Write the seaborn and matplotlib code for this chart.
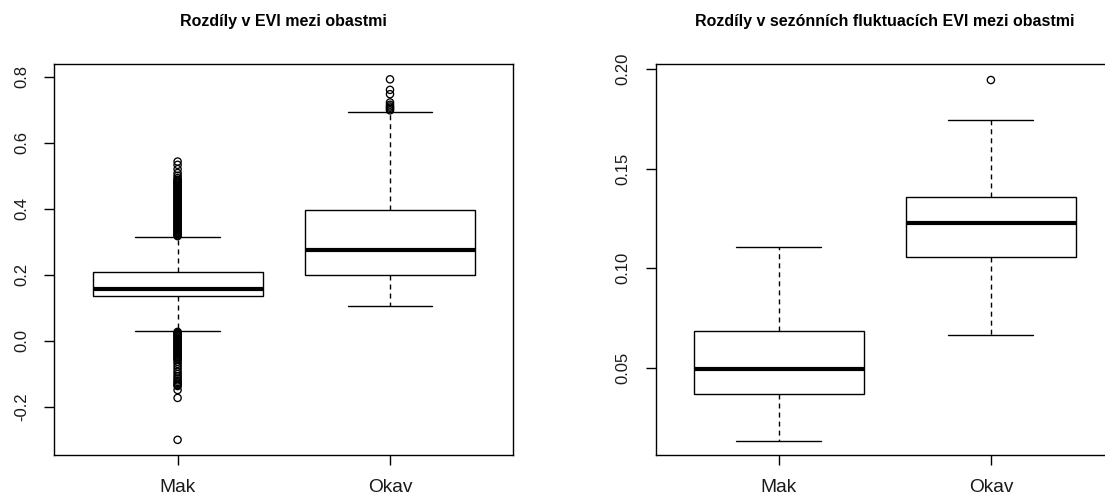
import numpy as np
import pandas as pd
import matplotlib
matplotlib.use("Agg")
import matplotlib.pyplot as plt
import seaborn as sns

# ---------------- data ----------------
groups = ["Mak", "Okav"]

# five-number summaries: lower whisker, Q1, median, Q3, upper whisker
evi_mak_box = [0.030, 0.135, 0.158, 0.208, 0.314]
evi_okav_box = [0.104, 0.198, 0.274, 0.397, 0.693]

# outliers (EVI) - the Mak outliers form a dense column in the reference
evi_mak_out = [0.543, 0.533, 0.520, 0.508, 0.500, 0.493,
               0.488, 0.485, 0.482, 0.479, 0.476, 0.473, 0.470, 0.467,
               0.464, 0.461, 0.458, 0.455, 0.452, 0.449, 0.446, 0.443,
               0.440, 0.437, 0.434, 0.431, 0.428, 0.425, 0.422, 0.419,
               0.416, 0.413, 0.410, 0.407, 0.404, 0.401, 0.398, 0.395,
               0.392, 0.389, 0.386, 0.383, 0.380, 0.377, 0.374, 0.371,
               0.368, 0.365, 0.362, 0.359, 0.356, 0.353, 0.350, 0.347,
               0.344, 0.341, 0.338, 0.335, 0.332, 0.329, 0.326, 0.323,
               0.320, 0.317,
               0.027, 0.024, 0.021, 0.018, 0.015, 0.012, 0.009, 0.006,
               0.003, 0.000, -0.003, -0.006, -0.009, -0.012, -0.015,
               -0.018, -0.021, -0.024, -0.027, -0.030, -0.033, -0.036,
               -0.039, -0.042, -0.045, -0.048, -0.051, -0.054, -0.057,
               -0.063, -0.070, -0.078, -0.086, -0.094, -0.101, -0.108,
               -0.114, -0.120, -0.125, -0.130, -0.134, -0.137,
               -0.149, -0.173, -0.300]
evi_okav_out = [0.792, 0.760, 0.747, 0.722, 0.715, 0.710, 0.706, 0.702, 0.698]

# seasonal fluctuation of EVI
fluct_mak_box = [0.0132, 0.0368, 0.0493, 0.0683, 0.1107]
fluct_okav_box = [0.0666, 0.1058, 0.1227, 0.1359, 0.1746]
fluct_mak_out = []
fluct_okav_out = [0.1945]

titles = ["Rozdíly v EVI mezi obastmi",
          "Rozdíly v sezónních fluktuacích EVI mezi obastmi"]
left_ticks = [-0.2, 0.0, 0.2, 0.4, 0.6, 0.8]
left_ticklabels = ["-0.2", "0.0", "0.2", "0.4", "0.6", "0.8"]
right_ticks = [0.05, 0.10, 0.15, 0.20]
right_ticklabels = ["0.05", "0.10", "0.15", "0.20"]

# ---------------- styling ----------------
sns.set_style("ticks")
plt.rcParams['font.family'] = ['Liberation Sans', 'DejaVu Sans']

W, H = 1105, 499
fig = plt.figure(figsize=(W / 100, H / 100), dpi=100)
fig.patch.set_facecolor("white")

ax_l = fig.add_axes([54.4 / W, (H - 454.7) / H, 458.8 / W, 390.4 / H])
ax_r = fig.add_axes([655.5 / W, (H - 454.7) / H, 458.5 / W, 390.4 / H])


def build(box_a, box_b):
    return pd.DataFrame({
        "group": [groups[0]] * len(box_a) + [groups[1]] * len(box_b),
        "value": list(box_a) + list(box_b),
    })


def draw(ax, box_a, box_b, out_a, out_b, ylim, ticks, ticklabels, title):
    df = build(box_a, box_b)
    sns.boxplot(data=df, x="group", y="value", order=groups, ax=ax,
                width=0.8, color="white", linecolor="black", linewidth=1.0,
                showfliers=False, whis=1.5,
                medianprops={"color": "black", "linewidth": 3.0},
                whiskerprops={"color": "black", "linewidth": 1.0,
                              "linestyle": (0, (3.6, 2.9))},
                capprops={"color": "black", "linewidth": 1.0},
                boxprops={"edgecolor": "black", "linewidth": 1.0,
                          "facecolor": "white"})
    # caps as wide as half the box (R style)
    for ln in ax.lines:
        xd = ln.get_xdata()
        if len(xd) == 2 and ln.get_linestyle() == "-" and xd[0] != xd[1]:
            yd = ln.get_ydata()
            if yd[0] == yd[1] and ln.get_linewidth() < 2:
                c = (xd[0] + xd[1]) / 2
                ln.set_xdata([c - 0.2, c + 0.2])
    od = pd.DataFrame({
        "group": [groups[0]] * len(out_a) + [groups[1]] * len(out_b),
        "value": list(out_a) + list(out_b),
    })
    if len(od):
        sns.stripplot(data=od, x="group", y="value", order=groups, ax=ax,
                      jitter=False, color="none", edgecolor="black",
                      linewidth=0.95, size=5.2, marker="o", zorder=5)
    ax.set_xlim(-0.58, 1.58)
    ax.set_ylim(*ylim)
    ax.set_yticks(ticks)
    ax.set_yticklabels(ticklabels, rotation=90, va="center",
                       fontsize=12, color="#1a1a1a")
    ax.set_xticks([0, 1])
    ax.set_xticklabels(groups, fontsize=13.8, color="#1a1a1a")
    ax.tick_params(axis="y", length=7.2, width=1.0, pad=11, color="black")
    ax.tick_params(axis="x", length=7.5, width=1.0, pad=10, color="black")
    ax.set_xlabel("")
    ax.set_ylabel("")
    for s in ax.spines.values():
        s.set_visible(True)
        s.set_color("black")
        s.set_linewidth(1.0)
    ax.set_title(title, fontsize=11.5, fontweight="bold", pad=27.5,
                 color="black")


draw(ax_l, evi_mak_box, evi_okav_box, evi_mak_out, evi_okav_out,
     (-0.345, 0.8375), left_ticks, left_ticklabels, titles[0])
draw(ax_r, fluct_mak_box, fluct_okav_box, fluct_mak_out, fluct_okav_out,
     (0.0063, 0.2024), right_ticks, right_ticklabels, titles[1])
# the right panel's frame runs past the image edge in the reference
ax_r.spines["right"].set_visible(False)

fig.savefig("out.png", dpi=100, facecolor="white")
